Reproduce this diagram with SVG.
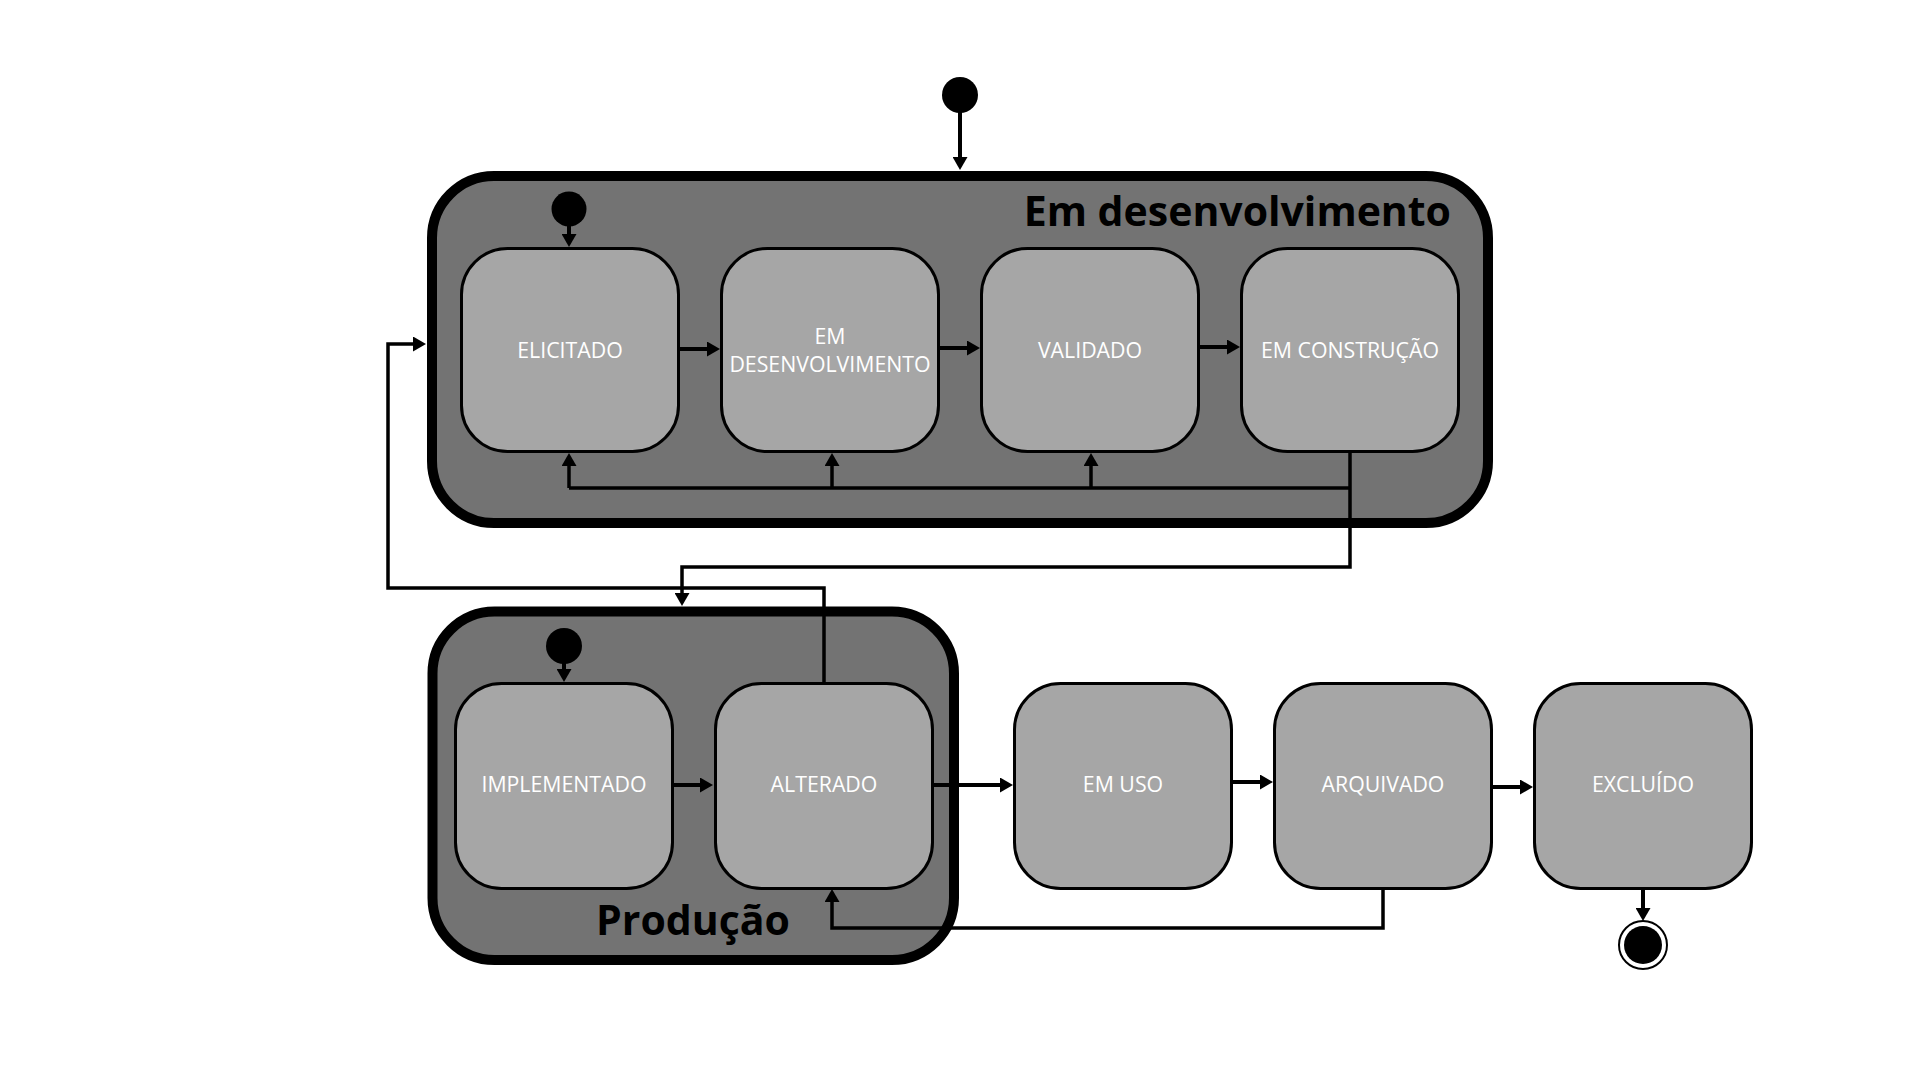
<svg xmlns="http://www.w3.org/2000/svg" width="1920" height="1080" viewBox="0 0 1920 1080">
<style>
.container{fill:#737373;stroke:#000;stroke-width:10}
.node{fill:#a6a6a6;stroke:#000;stroke-width:3}
.label{font-family:"Open Sans","Liberation Sans",sans-serif;font-size:21.3px;fill:#fff;text-anchor:middle}
.title{font-family:"Open Sans","Liberation Sans",sans-serif;font-size:41px;font-weight:700;fill:#000}
.dot{fill:#000}
.arrow{fill:none;stroke:#000;stroke-width:4;marker-end:url(#ah)}
.loop{fill:none;stroke:#000;stroke-width:3.5}
.loopa{fill:none;stroke:#000;stroke-width:3.5;marker-end:url(#ah)}
</style>
<defs>
<marker id="ah" markerUnits="userSpaceOnUse" markerWidth="13" markerHeight="15" refX="5" refY="7.5" orient="auto" viewBox="0 0 13 15">
<path d="M0,0 L13,7.5 L0,15 z" fill="#000"/>
</marker>
</defs>
<rect width="1920" height="1080" fill="#fff"/>

<g id="group-em-desenvolvimento">
<rect class="container" x="432" y="176" width="1056" height="347" rx="62"/>
<text class="title" x="1451" y="226" text-anchor="end">Em desenvolvimento</text>
</g>
<g id="group-producao">
<rect class="container" x="432.5" y="611.5" width="521.5" height="348.5" rx="62"/>
<text class="title" x="693" y="935" text-anchor="middle">Produção</text>
</g>

<g id="start-top"><circle class="dot" cx="960" cy="95" r="18"/></g>
<g id="start-dev"><circle class="dot" cx="569" cy="209" r="17.5"/></g>
<g id="start-prod"><circle class="dot" cx="564" cy="646" r="18"/></g>
<g id="end"><circle cx="1643" cy="945" r="24" fill="#fff" stroke="#000" stroke-width="2"/><circle class="dot" cx="1643" cy="945" r="19"/></g>

<g id="elicitado"><rect class="node" x="461.5" y="248.5" width="217" height="203" rx="46"/><text class="label" x="570" y="358">ELICITADO</text></g>
<g id="em-desenvolvimento"><rect class="node" x="721.5" y="248.5" width="217" height="203" rx="46"/><text class="label" x="830" y="344">EM</text><text class="label" x="830" y="372">DESENVOLVIMENTO</text></g>
<g id="validado"><rect class="node" x="981.5" y="248.5" width="217" height="203" rx="46"/><text class="label" x="1090" y="358">VALIDADO</text></g>
<g id="em-construcao"><rect class="node" x="1241.5" y="248.5" width="217" height="203" rx="46"/><text class="label" x="1350" y="358">EM CONSTRUÇÃO</text></g>

<g id="implementado"><rect class="node" x="455.5" y="683.5" width="217" height="205" rx="46"/><text class="label" x="564" y="792">IMPLEMENTADO</text></g>
<g id="alterado"><rect class="node" x="715.5" y="683.5" width="217" height="205" rx="46"/><text class="label" x="824" y="792">ALTERADO</text></g>
<g id="em-uso"><rect class="node" x="1014.5" y="683.5" width="217" height="205" rx="46"/><text class="label" x="1123" y="792">EM USO</text></g>
<g id="arquivado"><rect class="node" x="1274.5" y="683.5" width="217" height="205" rx="46"/><text class="label" x="1383" y="792">ARQUIVADO</text></g>
<g id="excluido"><rect class="node" x="1534.5" y="683.5" width="217" height="205" rx="46"/><text class="label" x="1643" y="792">EXCLUÍDO</text></g>

<g id="connectors">
<path class="arrow" d="M960,112 V162"/>
<path class="arrow" d="M569,225 V239"/>
<path class="arrow" d="M564,662 V674"/>
<path class="arrow" d="M680,349 H712"/>
<path class="arrow" d="M940,348 H972"/>
<path class="arrow" d="M1200,347 H1232"/>
<path class="loop" d="M1350,452 V567 H682 V590"/>
<path class="loopa" d="M682,590 V598"/>
<path class="loop" d="M1350,488 H569"/>
<path class="loopa" d="M569,488 V461"/>
<path class="loopa" d="M832,488 V461"/>
<path class="loopa" d="M1091,488 V461"/>
<path class="loopa" d="M824,682 V588 H388 V344 H418"/>
<path class="arrow" d="M674,785 H705"/>
<path class="arrow" d="M934,785 H1005"/>
<path class="arrow" d="M1232,782 H1265"/>
<path class="arrow" d="M1492,787 H1525"/>
<path class="loopa" d="M1383,889 V928 H832 V897"/>
<path class="arrow" d="M1643,890 V913"/>
</g>
</svg>
